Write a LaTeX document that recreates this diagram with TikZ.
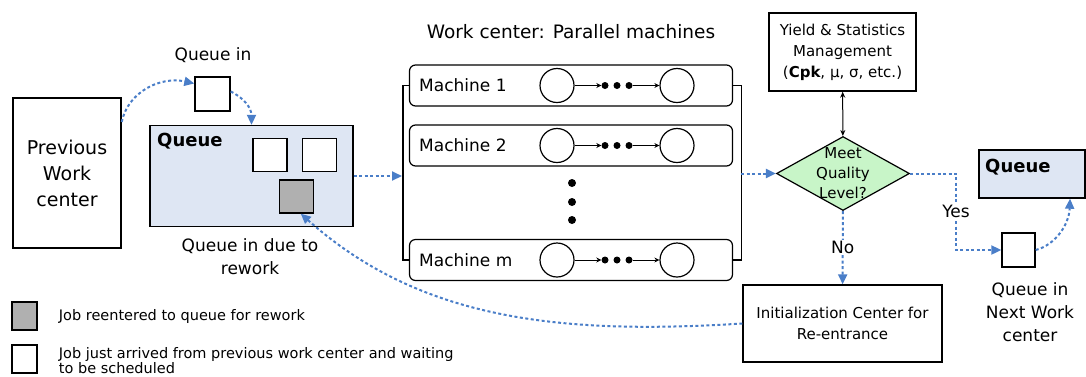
\documentclass[tikz,border=0pt]{standalone}
\usepackage{fontspec}
\setmainfont{DejaVu Sans}
\usetikzlibrary{shapes.geometric}
\usetikzlibrary{arrows.meta}
\usetikzlibrary{positioning}

\definecolor{flowblue}{RGB}{74,126,200}
\definecolor{queuefill}{RGB}{222,230,243}
\definecolor{okgreen}{RGB}{200,245,200}
\definecolor{jobgray}{RGB}{176,176,176}

\begin{document}
\begin{tikzpicture}[x=1pt, y=-1pt,
    box/.style={draw, line width=1.4pt, inner sep=0pt},
    job/.style={box, fill=white, minimum width=34pt, minimum height=33pt},
    machine/.style={draw, line width=1.2pt, rounded corners=6pt, minimum width=323pt, minimum height=41pt},
    station/.style={draw, circle, line width=1.2pt, minimum size=34pt, inner sep=0pt},
    dot/.style={circle, fill, inner sep=0pt, minimum size=7pt},
    decision/.style={diamond, draw, fill=okgreen, line width=1.2pt, minimum width=133pt, minimum height=74pt, inner sep=0pt},
    flow/.style={flowblue, line width=2pt, dash pattern=on 3pt off 2.5pt, -{Triangle[length=10pt,width=9pt]}},
    tip/.style={line width=1pt, -{Stealth[length=5pt,width=5pt]}},
    txt/.style={font=\fontsize{17}{23}\selectfont, align=center, inner sep=1pt},
    small/.style={font=\fontsize{15}{21}\selectfont, align=center},
    legend/.style={font=\fontsize{14.5}{14}\selectfont, align=left, inner sep=0pt}]
          \useasboundingbox (0,0) rectangle (1086,376);

          \node[box, align=center, minimum width=108pt, minimum height=150pt, font=\fontsize{19}{26}\selectfont] (prev) at (67,173) {Previous\\Work\\center};
          \node[job, minimum width=35pt, minimum height=34pt] (qin) at (212.5,94) {};
          \node[txt] (qinlabel) at (213,55) {Queue in};
          \node[box, fill=queuefill, minimum width=203pt, minimum height=101pt] (qbox) at (251.5,176) {};
          \node[anchor=base west, inner sep=0pt, font=\fontsize{18}{22}\selectfont\bfseries] (qboxlabel) at (157,146) {Queue};
          \node[job] (j1) at (270,155) {};
          \node[job] (j2) at (319.5,155) {};
          \node[job, fill=jobgray] (jr) at (296.5,196.5) {};
          \node[txt] (reworklabel) at (250,256.5) {Queue in due to\\rework};

          \node[font=\fontsize{18.5}{22}\selectfont] (title) at (571,32) {Work center: Parallel machines};
          \node[machine] (m1) at (571,85.5) {};
          \node[machine] (m2) at (571,145.5) {};
          \node[machine] (mm) at (571,260) {};
          \node[txt, anchor=west] (m1label) at (418,85.5) {Machine 1};
          \node[txt, anchor=west] (m2label) at (418,145.5) {Machine 2};
          \node[txt, anchor=west] (mmlabel) at (418,260) {Machine m};
          \node[station] (m1a) at (557,85.5) {};
          \node[station] (m1b) at (677,85.5) {};
          \node[station] (m2a) at (557,145.5) {};
          \node[station] (m2b) at (677,145.5) {};
          \node[station] (mma) at (557,260) {};
          \node[station] (mmb) at (677,260) {};
          \node[dot] (m1d1) at (605,85.5) {};
          \node[dot] (m1d2) at (617,85.5) {};
          \node[dot] (m1d3) at (629,85.5) {};
          \node[dot] (m2d1) at (605,145.5) {};
          \node[dot] (m2d2) at (617,145.5) {};
          \node[dot] (m2d3) at (629,145.5) {};
          \node[dot] (mmd1) at (605,260) {};
          \node[dot] (mmd2) at (617,260) {};
          \node[dot] (mmd3) at (629,260) {};
          \node[dot, minimum size=8pt] (vd1) at (572,183) {};
          \node[dot, minimum size=8pt] (vd2) at (572,202) {};
          \node[dot, minimum size=8pt] (vd3) at (572,220) {};
          \coordinate (wcin) at (402,176);
          \coordinate (wcout) at (741,173.5);

          \node[decision] (q) at (843,173.5) {};
          \node[small, inner sep=0pt, font=\fontsize{15}{20}\selectfont] (qtext) at (q) {Meet\\Quality\\Level?};
          \node[box, small, minimum width=147pt, minimum height=78pt] (yield) at (842.5,52) {Yield \& Statistics\\Management\\(\textbf{Cpk}, μ, σ, etc.)};
          \node[box, small, minimum width=199pt, minimum height=77pt] (init) at (842.5,323.5) {Initialization Center for\\Re-entrance};
          \coordinate (yesbend) at (956,173.5);
          \node[job, minimum width=33pt, minimum height=34pt] (qnext) at (1018.5,250) {};
          \node[box, fill=queuefill, minimum width=106pt, minimum height=48pt] (nqueue) at (1032,174) {};
          \node[anchor=base west, inner sep=0pt, font=\fontsize{18}{22}\selectfont\bfseries] (nqueuelabel) at (985,172) {Queue};
          \node[txt] (nextlabel) at (1030,312) {Queue in\\Next Work\\center};

          \node[box, fill=jobgray, minimum width=25pt, minimum height=28pt] (leg1) at (24.5,316) {};
          \node[box, fill=white, minimum width=25pt, minimum height=28pt] (leg2) at (24.5,359) {};
          \node[legend, right=21pt of leg1] (leg1txt) {Job reentered to queue for rework};
          \node[legend, right=21pt of leg2, yshift=-1.5pt] (leg2txt) {Job just arrived from previous work center and waiting\\to be scheduled};

          \draw[line width=1.2pt] (m1.west) -- ++(-6,0) |- (mm.west);
          \draw[line width=1.2pt] (m1.east) -- ++(8,0) |- (mm.east);
          \draw[tip] (m1a) -- (m1d1);
          \draw[tip] (m1d3) -- (m1b);
          \draw[tip] (m2a) -- (m2d1);
          \draw[tip] (m2d3) -- (m2b);
          \draw[tip] (mma) -- (mmd1);
          \draw[tip] (mmd3) -- (mmb);

          \draw[flow] (prev.43) .. controls (128,92) and (160,76) .. (qin.150);
          \draw[flow] (qin.8) .. controls (244,98) and (251.5,108) .. (qbox.north);
          \draw[flow] (qbox.east) -- (wcin);
          \draw[flow] (wcout) -- (q.west);
          \draw[{Stealth[length=6pt,width=5pt]}-{Stealth[length=6pt,width=5pt]}, line width=1pt] (yield) -- (q);
          \draw[flow] (q) -- node[txt, fill=white, text=black] {No} (init);
          \draw[flow] (q.east) -- (yesbend) |- node[pos=0.25, txt, fill=white, text=black] {Yes} (qnext.west);
          \draw[flow] (qnext.east) .. controls (1055,245) and (1069,225) .. (nqueue.-33);
          \draw[flow] (init.west) .. controls (560,335) and (420,320) .. (jr.-76);
        \end{tikzpicture}
\end{document}
